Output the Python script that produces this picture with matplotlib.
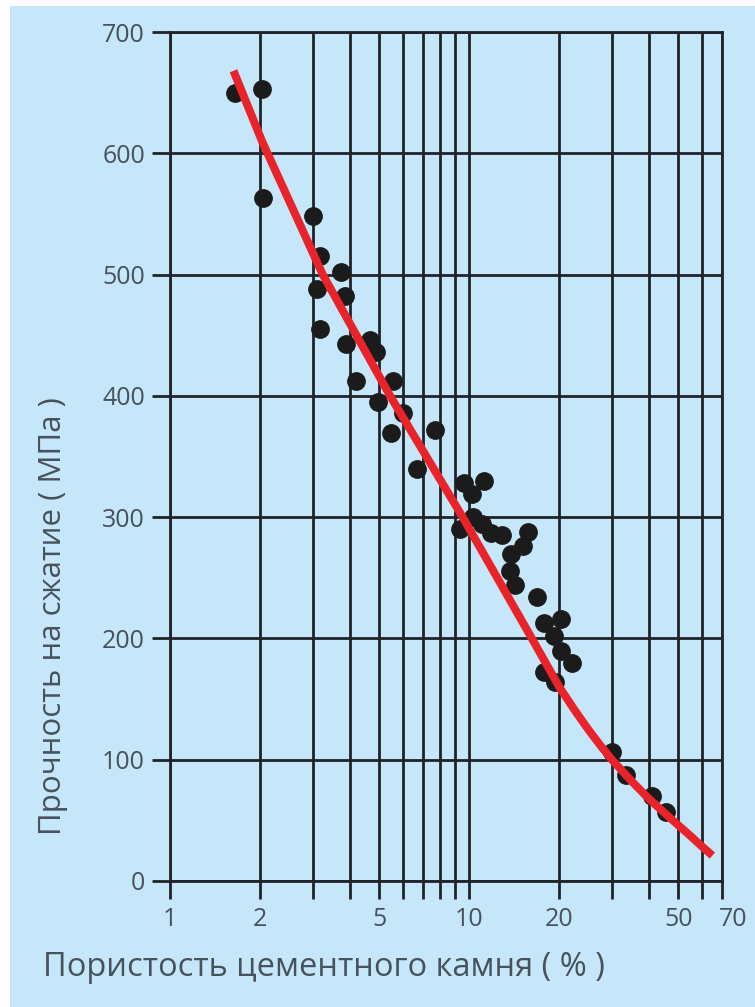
import matplotlib

matplotlib.use("Agg")
import matplotlib.pyplot as plt
from matplotlib.patches import Rectangle
from matplotlib.transforms import ScaledTranslation
from matplotlib.ticker import NullFormatter

plt.rcParams["font.family"] = ["Open Sans", "DejaVu Sans"]

# measured points: porosity (%) vs compressive strength (MPa)
porosity = [1.65, 2.03, 2.05, 3.0, 3.17, 3.74, 3.09, 3.84, 3.17, 3.87,
            4.65, 4.9, 4.2, 5.56, 4.95, 6.0, 5.5, 7.7, 6.7, 9.6,
            11.2, 10.2, 10.3, 9.3, 11.0, 11.8, 12.9, 15.7, 15.1, 13.8,
            13.7, 14.2, 16.9, 17.8, 20.3, 19.2, 20.3, 22.0, 17.8, 19.4,
            30.0, 33.5, 41.0, 45.5]
strength = [650, 653, 563, 548, 515, 502, 488, 482, 455, 443,
            446, 436, 412, 412, 395, 386, 369, 372, 340, 328,
            330, 319, 300, 290, 294, 287, 285, 288, 276, 270,
            256, 244, 234, 213, 216, 202, 190, 180, 172, 164,
            106, 87, 70, 57]

# fitted red curve
curve_x = [1.63, 2.03, 3.24, 5.44, 9.51, 16.2, 20.0, 22.5, 25.0, 27.5,
           30.0, 35.0, 40.0, 45.0, 50.0, 55.0, 60.0, 65.0]
curve_y = [668, 610, 500, 400, 300, 200, 160, 141, 125, 111.5,
           100, 82, 67.5, 56, 46, 37, 28.5, 21]

major_x = [1, 2, 5, 10, 20, 50, 70]
minor_x = [3, 4, 6, 7, 8, 9, 30, 40, 60]
y_ticks = [0, 100, 200, 300, 400, 500, 600, 700]

bg = "#c6e7f9"
ink = "#1f2428"
txt = "#46525c"

fig = plt.figure(figsize=(7.55, 10.07), dpi=100)
fig.patch.set_facecolor("white")
fig.add_artist(Rectangle((10 / 755, 0), 1, 1 - 6 / 1007, transform=fig.transFigure,
                         facecolor=bg, edgecolor="none", zorder=-10))

ax = fig.add_axes([170 / 755, 1 - 881 / 1007, 552 / 755, 849 / 1007])
ax.set_facecolor("none")
ax.set_xscale("log")
ax.set_xlim(1, 70)
ax.set_ylim(0, 700)

ax.set_xticks(major_x, [str(v) for v in major_x])
ax.set_xticks(minor_x, minor=True)
ax.xaxis.set_minor_formatter(NullFormatter())
ax.set_yticks(y_ticks, [str(v) for v in y_ticks])

ax.set_axisbelow(True)
ax.grid(which="both", color=ink, linewidth=2.0)
for s in ax.spines.values():
    s.set_color(ink)
    s.set_linewidth(2.0)
ax.tick_params(which="both", length=13, width=2.0, color=ink, labelsize=18,
               labelcolor=txt, pad=5)
ax.tick_params(axis="x", which="both", pad=6)

ax.plot(porosity, strength, "o", markersize=12.5, color="#1b1b1b", zorder=3)
ax.plot(curve_x, curve_y, color="#e8232a", linewidth=5.8, solid_capstyle="butt", zorder=4)

fig.text(324 / 755, 1 - 968 / 1007, "Пористость цементного камня ( % )",
         ha="center", va="center", fontsize=23.5, color=txt)
fig.text(53 / 755, 1 - 616 / 1007, "Прочность на сжатие ( МПа )",
         ha="center", va="center", rotation=90, fontsize=22.5, color=txt)

lab = ax.xaxis.get_major_ticks()[-1].label1
lab.set_transform(lab.get_transform() + ScaledTranslation(8 / 72, 0, fig.dpi_scale_trans))

fig.savefig("out.png", dpi=100)
